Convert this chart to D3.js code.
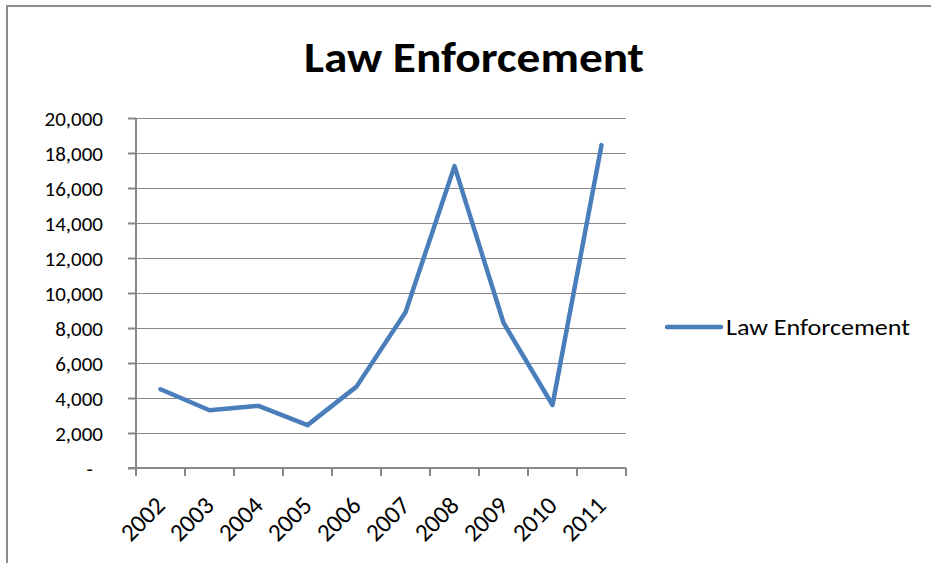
<!DOCTYPE html>
<html>
<head>
<meta charset="utf-8">
<script src="https://cdn.jsdelivr.net/npm/d3@7"></script>
<style>
    body { margin: 0; background: #fff; }
    svg { display: block; }
    text { font-family: Carlito, Calibri, Lato, "Open Sans", sans-serif; fill: #000; }
</style>
</head>
<body>
<div id="chart"></div>
<script>
// Chart data
const years = ['2002', '2003', '2004', '2005', '2006', '2007', '2008', '2009', '2010', '2011'];
const lawEnforcement = [4500, 3300, 3550, 2450, 4650, 8900, 17250, 8300, 3600, 18450];
const yTicks = [0, 2000, 4000, 6000, 8000, 10000, 12000, 14000, 16000, 18000, 20000];
const seriesName = 'Law Enforcement';
const chartTitle = 'Law Enforcement';

const width = 931;
const height = 563;
const margin = { top: 118, right: 305, bottom: 95, left: 136 };

const svg = d3.select('#chart')
    .append('svg')
    .attr('width', width)
    .attr('height', height);

// Outer chart border (runs off the right and bottom edges)
svg.append('rect')
    .attr('x', 7)
    .attr('y', 6)
    .attr('width', 940)
    .attr('height', 580)
    .attr('fill', 'none')
    .attr('stroke', '#8c8c8c')
    .attr('stroke-width', 2);

const x = d3.scaleBand()
    .domain(years)
    .range([margin.left, width - margin.right]);

const y = d3.scaleLinear()
    .domain([0, 20000])
    .range([height - margin.bottom, margin.top]);

const fmt = d => d === 0 ? '-' : d3.format(',')(d);

// Gridlines
svg.append('g')
    .selectAll('line')
    .data(yTicks.filter(d => d > 0))
    .enter()
    .append('line')
    .attr('x1', margin.left)
    .attr('x2', width - margin.right)
    .attr('y1', d => Math.round(y(d)) + 0.5)
    .attr('y2', d => Math.round(y(d)) + 0.5)
    .attr('stroke', '#888')
    .attr('stroke-width', 1.2);

// Y axis
const yAxis = svg.append('g')
    .attr('transform', `translate(${margin.left},0)`)
    .call(d3.axisLeft(y).tickValues(yTicks).tickFormat(fmt).tickSize(8).tickPadding(25));
yAxis.selectAll('line, path').attr('stroke', '#888').attr('stroke-width', 2);
yAxis.select('.domain').attr('d', `M0,${y(0)}V${y(20000)}`);
yAxis.selectAll('text')
    .attr('font-size', 21)
    .attr('font-family', 'Carlito, Calibri, Lato, sans-serif')
    .attr('dy', '0.35em');
yAxis.selectAll('.tick')
    .filter(d => d === 0)
    .select('text')
    .attr('x', -43);

// X axis with ticks at category boundaries
const xAxis = svg.append('g')
    .attr('transform', `translate(0,${y(0)})`);
xAxis.append('line')
    .attr('x1', margin.left - 8)
    .attr('x2', width - margin.right)
    .attr('stroke', '#888')
    .attr('stroke-width', 2);
const boundaries = years.map(d => x(d)).concat([x(years[years.length - 1]) + x.bandwidth()]);
xAxis.selectAll('.xtick')
    .data(boundaries)
    .enter()
    .append('line')
    .attr('x1', d => d)
    .attr('x2', d => d)
    .attr('y1', 0)
    .attr('y2', 8)
    .attr('stroke', '#888')
    .attr('stroke-width', 2);
xAxis.selectAll('.xlabel')
    .data(years)
    .enter()
    .append('text')
    .attr('text-anchor', 'end')
    .attr('font-size', 25)
    .attr('transform', d => `translate(${x(d) + x.bandwidth() / 2 + 6},${39}) rotate(-45)`)
    .text(d => d);

// Line
const line = d3.line()
    .x((d, i) => x(years[i]) + x.bandwidth() / 2)
    .y(d => y(d));

svg.append('path')
    .datum(lawEnforcement)
    .attr('d', line)
    .attr('fill', 'none')
    .attr('stroke', '#4a7ebb')
    .attr('stroke-width', 4.5)
    .attr('stroke-linejoin', 'round')
    .attr('stroke-linecap', 'round');

// Title
svg.append('text')
    .attr('x', 474)
    .attr('y', 72)
    .attr('text-anchor', 'middle')
    .attr('font-size', 42)
    .attr('font-weight', 'bold')
    .attr('textLength', 340)
    .attr('lengthAdjust', 'spacingAndGlyphs')
    .text(chartTitle);

// Legend
const legend = svg.append('g')
    .attr('transform', 'translate(667,327)');
legend.append('line')
    .attr('x1', 0)
    .attr('x2', 54)
    .attr('stroke', '#4a7ebb')
    .attr('stroke-width', 4.5)
    .attr('stroke-linecap', 'round');
legend.append('text')
    .attr('x', 59)
    .attr('dy', '0.35em')
    .attr('font-size', 22)
    .attr('textLength', 184)
    .attr('lengthAdjust', 'spacingAndGlyphs')
    .text(seriesName);
</script>
</body>
</html>
